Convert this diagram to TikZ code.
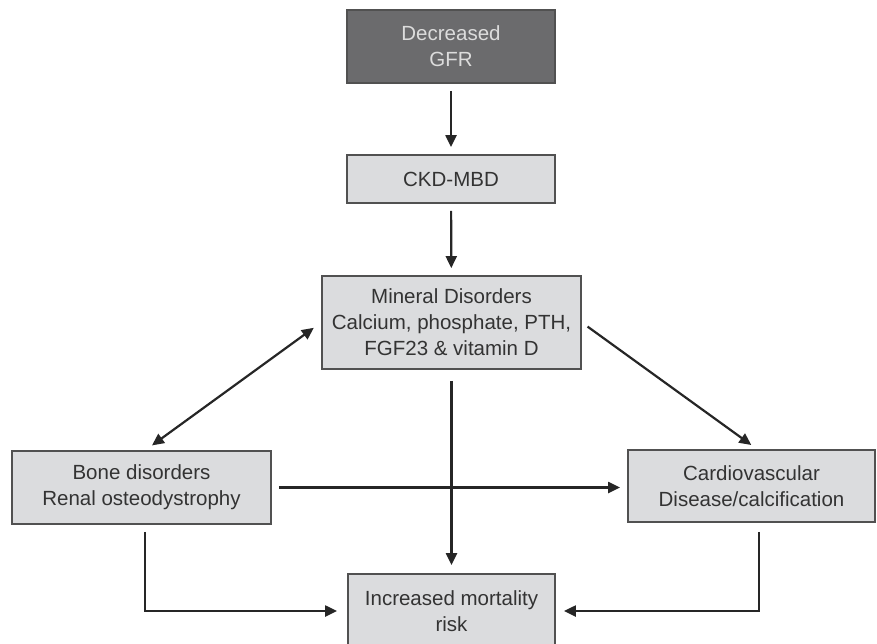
\documentclass[tikz,border=0pt]{standalone}
\usepackage{fontspec}
\setmainfont{Liberation Sans}
\usetikzlibrary{arrows.meta}
\definecolor{boxgray}{HTML}{DBDCDE}
\definecolor{darkbox}{HTML}{6B6B6D}
\definecolor{linegray}{HTML}{262626}
\definecolor{textgray}{HTML}{333333}
\definecolor{lighttext}{HTML}{DCDCDC}

\begin{document}
\begin{tikzpicture}[x = 1pt, y = -1pt,
  box/.style = {draw = linegray!80, line width = 1.8pt, fill = boxgray, text = textgray, align = center, inner sep = 0pt, font = \fontsize{20.5}{26}\selectfont},
  arr/.style = {draw = linegray, line width = 2.2pt, -{Triangle[length = 12pt, width = 11pt]}, shorten > = 7pt, shorten < = 7pt}]
\clip (0,0) rectangle (877,643);

\node[box, fill = darkbox, text = lighttext, minimum width = 208pt, minimum height = 73pt] (gfr) at (451,46.5) {Decreased\\GFR};
\node[box, minimum width = 208pt, minimum height = 48pt] (ckd) at (451,179) {CKD-MBD};
\node[box, minimum width = 259pt, minimum height = 93pt] (mineral) at (451.5,322.5) {Mineral Disorders\\Calcium, phosphate, PTH,\\FGF23 \& vitamin D};
\node[box, minimum width = 259pt, minimum height = 73pt] (bone) at (141.5,487.5) {Bone disorders\\Renal osteodystrophy};
\node[box, minimum width = 247pt, minimum height = 72pt] (cardio) at (751.5,486) {Cardiovascular\\Disease/calcification};
\node[box, minimum width = 207pt, minimum height = 74pt] (mortality) at (451.5,611) {Increased mortality\\risk};

\draw[arr] (gfr) -- (ckd);
\draw[arr] (ckd) -- (mineral);
\draw[arr, {Triangle[length = 12pt, width = 11pt]}-{Triangle[length = 12pt, width = 11pt]}, shorten < = 9pt, shorten > = 8pt] (mineral.west) -- ([xshift = 4pt]bone.north);
\draw[arr] (mineral.east) -- ([xshift = 5.5pt]cardio.north);
\draw[arr, shorten < = 11pt, shorten > = 8pt] (mineral) -- (mortality);
\draw[arr] (bone.east) -- (bone.east -| cardio.west);
\draw[arr, shorten > = 10pt] ([xshift = 3.5pt]bone.south) |- (mortality.west);
\draw[arr, shorten < = 9pt, shorten > = 8pt] ([xshift = 7.5pt]cardio.south) |- (mortality.east);

\end{tikzpicture}
\end{document}
